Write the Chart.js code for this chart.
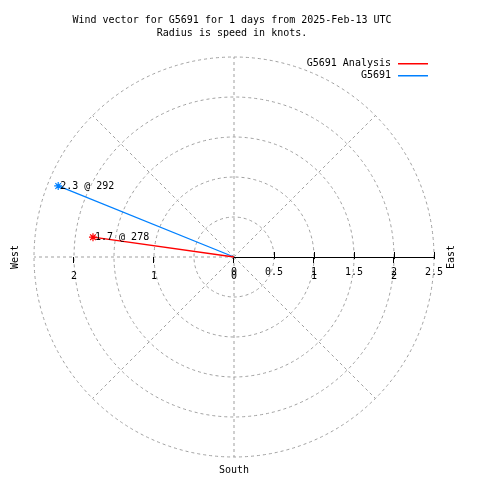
<!DOCTYPE html>
<html>
<head>
<meta charset="utf-8">
<script src="https://cdn.jsdelivr.net/npm/chart.js@4.4.1/dist/chart.umd.min.js"></script>
<style>
  html, body { margin: 0; padding: 0; background: #fff; }
  canvas { display: block; }
</style>
</head>
<body>
<canvas id="c" width="480" height="480"></canvas>
<script>
const titleLines = ['Wind vector for G5691 for 1 days from 2025-Feb-13 UTC', 'Radius is speed in knots.'];
const seriesNames = ['G5691 Analysis', 'G5691'];
const seriesColors = ['#ff0000', '#0080ff'];
const speeds = [1.78, 2.37];
const directions = [278, 292];
const rTicks = [0, 0.5, 1, 1.5, 2, 2.5];
const xTicks = [-2, -1, 0, 1, 2];
const spokes = [0, 45, 135, 180, 225, 270, 315];
const rMax = 2.5;

const FONT = '10px "DejaVu Sans Mono", monospace';
const toXY = (s, d) => ({ x: s * Math.sin(d * Math.PI / 180), y: s * Math.cos(d * Math.PI / 180) });
const fmt = v => (Math.floor(v * 10) / 10).toFixed(1);

const datasets = seriesNames.map((name, i) => ({
    label: name,
    data: [{ x: 0, y: 0 }, toXY(speeds[i], directions[i])],
    borderColor: seriesColors[i],
    backgroundColor: seriesColors[i],
    borderWidth: 1.3,
    showLine: true,
    pointStyle: 'star',
    pointRadius: [0, 4],
    pointBorderWidth: 1.2
}));

const polarGrid = {
    id: 'polarGrid',
    beforeDatasetsDraw(chart) {
        const { ctx, scales: { x, y } } = chart;
        const cx = x.getPixelForValue(0), cy = y.getPixelForValue(0);
        ctx.save();
        ctx.strokeStyle = '#a0a0a0';
        ctx.lineWidth = 1;
        ctx.setLineDash([3, 3]);
        rTicks.filter(r => r > 0).forEach(r => {
            ctx.beginPath();
            ctx.arc(cx, cy, x.getPixelForValue(r) - cx, 0, Math.PI * 2);
            ctx.stroke();
        });
        spokes.forEach(a => {
            const p = toXY(rMax, a);
            ctx.beginPath();
            ctx.moveTo(cx, cy);
            ctx.lineTo(x.getPixelForValue(p.x), y.getPixelForValue(p.y));
            ctx.stroke();
        });
        ctx.setLineDash([]);
        // r axis
        ctx.strokeStyle = '#000';
        ctx.beginPath();
        ctx.moveTo(cx, cy + 0.5);
        ctx.lineTo(x.getPixelForValue(rMax), cy + 0.5);
        ctx.stroke();
        rTicks.filter(r => r > 0).forEach(r => {
            const px = Math.round(x.getPixelForValue(r)) + 0.5;
            ctx.beginPath();
            ctx.moveTo(px, cy - 5);
            ctx.lineTo(px, cy + 2);
            ctx.stroke();
        });
        xTicks.forEach(v => {
            const px = Math.round(x.getPixelForValue(v)) - 0.5;
            ctx.beginPath();
            ctx.moveTo(px, cy);
            ctx.lineTo(px, cy + 6);
            ctx.stroke();
        });
        ctx.fillStyle = '#000';
        ctx.font = FONT;
        ctx.textAlign = 'center';
        ctx.textBaseline = 'middle';
        rTicks.forEach(r => ctx.fillText(String(r), x.getPixelForValue(r), cy + 15));
        xTicks.forEach(v => ctx.fillText(String(Math.abs(v)), x.getPixelForValue(v), cy + 19));
        ctx.restore();
    },
    afterDraw(chart) {
        const { ctx, scales: { x, y } } = chart;
        const cx = x.getPixelForValue(0), cy = y.getPixelForValue(0);
        ctx.save();
        ctx.fillStyle = '#000';
        ctx.font = FONT;
        ctx.textBaseline = 'middle';
        ctx.textAlign = 'center';
        titleLines.forEach((t, i) => ctx.fillText(t, 232, 20 + i * 13));
        ctx.fillText('South', cx, 470);
        // compass labels rotated
        ctx.save();
        ctx.translate(15, cy);
        ctx.rotate(-Math.PI / 2);
        ctx.fillText('West', 0, 0);
        ctx.restore();
        ctx.save();
        ctx.translate(451, cy);
        ctx.rotate(-Math.PI / 2);
        ctx.fillText('East', 0, 0);
        ctx.restore();
        // legend
        ctx.textAlign = 'right';
        seriesNames.forEach((name, i) => {
            const ly = 63 + i * 12;
            ctx.fillStyle = '#000';
            ctx.fillText(name, 391, ly);
            ctx.fillStyle = seriesColors[i];
            ctx.fillRect(398, ly, 30, 1.5);
        });
        // vector labels
        ctx.textAlign = 'left';
        ctx.fillStyle = '#000';
        speeds.forEach((s, i) => {
            const p = toXY(s, directions[i]);
            ctx.fillText(fmt(s) + ' @ ' + directions[i], x.getPixelForValue(p.x) + 2, y.getPixelForValue(p.y));
        });
        ctx.restore();
    }
};

new Chart(document.getElementById('c'), {
    type: 'scatter',
    data: { datasets },
    options: {
        responsive: false,
        animation: false,
        layout: { padding: { left: 34, right: 46, top: 57, bottom: 23 } },
        plugins: { legend: { display: false }, title: { display: false }, tooltip: { enabled: false } },
        scales: {
            x: { type: 'linear', min: -rMax, max: rMax, display: false },
            y: { type: 'linear', min: -rMax, max: rMax, display: false }
        }
    },
    plugins: [polarGrid]
});
</script>
</body>
</html>
